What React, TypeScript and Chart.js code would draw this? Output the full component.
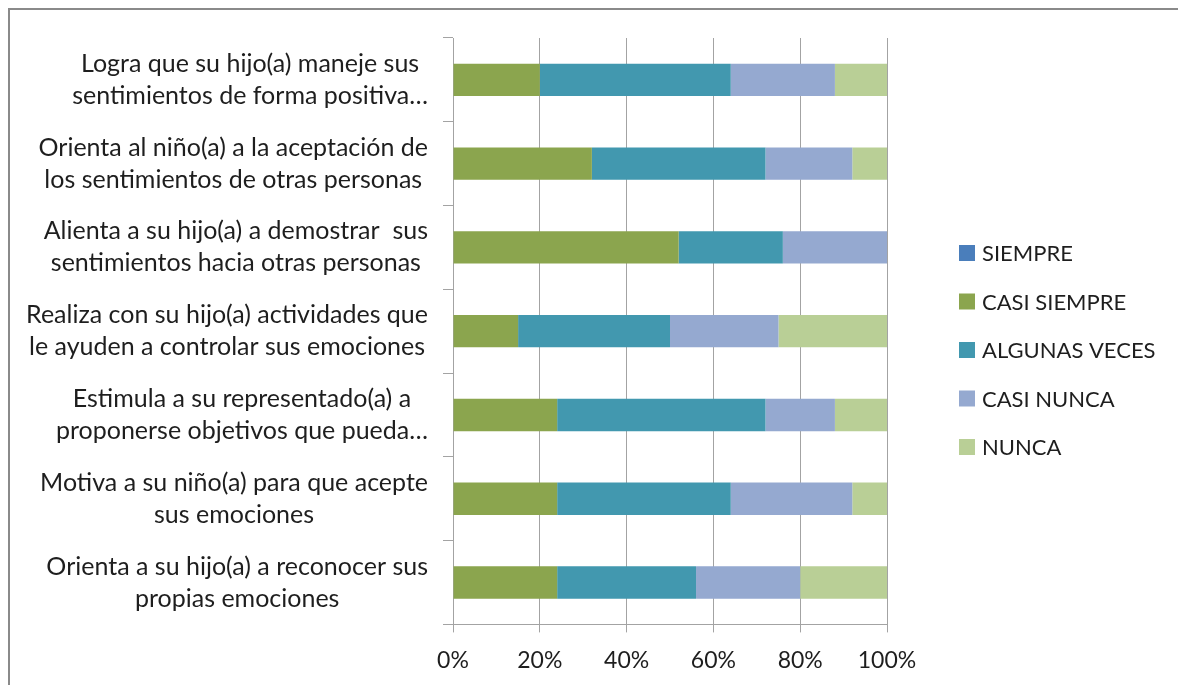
import React, { useEffect, useRef } from "react";
import { Chart, registerables } from "chart.js";

Chart.register(...registerables);

const categories: string[][] = [
  ["Logra que su hijo(a) maneje sus", "sentimientos de forma positiva…"],
  ["Orienta al niño(a) a la aceptación de", "los sentimientos de otras personas"],
  ["Alienta a su hijo(a) a demostrar  sus", "sentimientos hacia otras personas"],
  ["Realiza con su hijo(a) actividades que", "le ayuden a controlar sus emociones"],
  ["Estimula a su representado(a) a", "proponerse objetivos que pueda…"],
  ["Motiva a su niño(a) para que acepte", "sus emociones"],
  ["Orienta a su hijo(a) a reconocer sus", "propias emociones"],
];

const seriesNames = ["SIEMPRE", "CASI SIEMPRE", "ALGUNAS VECES", "CASI NUNCA", "NUNCA"];
const siempre = [0, 0, 0, 0, 0, 0, 0];
const casiSiempre = [20, 32, 52, 15, 24, 24, 24];
const algunasVeces = [44, 40, 24, 35, 48, 40, 32];
const casiNunca = [24, 20, 24, 25, 16, 28, 24];
const nunca = [12, 8, 0, 25, 12, 8, 20];
const xTicks = [0, 20, 40, 60, 80, 100];

const colors = ["#4A7EBB", "#8BA54E", "#4298AF", "#95A9D0", "#B9CF96"];

const FONT = "Lato, 'Open Sans', sans-serif";
const TEXT = "#1e1e1e";
const GRID = "#a3a3a3";

// Category label layout
const LABEL_FONT_SIZE = 25;
const LABEL_LINE_HEIGHT = 32;
const LABEL_GAP = 25; // from plot left edge to right edge of label block

// Legend layout (canvas coordinates)
const LEGEND_FONT_SIZE = 22;
const LEGEND_BOX_X = 949;
const LEGEND_BOX = 16;
const LEGEND_TEXT_X = 972;
const LEGEND_CENTER_Y = 340;
const LEGEND_STEP = 48.5;

const categoryLabelPlugin = {
  id: "categoryLabels",
  afterDraw(chart: any) {
    const ctx = chart.ctx;
    const yScale = chart.scales.y;
    const labels: string[][] = chart.data.labels;
    ctx.save();
    ctx.font = `${LABEL_FONT_SIZE}px ${FONT}`;
    ctx.fillStyle = TEXT;
    ctx.textAlign = "center";
    ctx.textBaseline = "middle";
    const right = chart.chartArea.left - LABEL_GAP;
    labels.forEach((lines, i) => {
      const cy = yScale.getPixelForValue(i);
      const blockW = Math.max(...lines.map((l) => ctx.measureText(l).width));
      const cx = right - blockW / 2;
      const n = lines.length;
      lines.forEach((line, j) => {
        const ly = cy + (j - (n - 1) / 2) * LABEL_LINE_HEIGHT;
        ctx.fillText(line, cx, ly);
      });
    });
    ctx.restore();
  },
};

const legendPlugin = {
  id: "sideLegend",
  afterDraw(chart: any) {
    const ctx = chart.ctx;
    const ds = chart.data.datasets;
    const n = ds.length;
    ctx.save();
    ctx.font = `${LEGEND_FONT_SIZE}px ${FONT}`;
    ctx.textBaseline = "middle";
    ctx.textAlign = "left";
    ds.forEach((d: any, i: number) => {
      const cy = LEGEND_CENTER_Y + (i - (n - 1) / 2) * LEGEND_STEP;
      ctx.fillStyle = d.backgroundColor;
      ctx.fillRect(LEGEND_BOX_X, cy - LEGEND_BOX / 2, LEGEND_BOX, LEGEND_BOX);
      ctx.fillStyle = TEXT;
      ctx.fillText(d.label, LEGEND_TEXT_X, cy + 1);
    });
    ctx.restore();
  },
};

export default function App() {
  const ref = useRef<HTMLCanvasElement | null>(null);

  useEffect(() => {
    if (!ref.current) return;
    const values = [siempre, casiSiempre, algunasVeces, casiNunca, nunca];
    const chart = new Chart(ref.current, {
      type: "bar",
      data: {
        labels: categories,
        datasets: seriesNames.map((name, i) => ({
          label: name,
          data: values[i],
          backgroundColor: colors[i],
          borderWidth: 0,
          barPercentage: 0.386,
          categoryPercentage: 1,
        })),
      },
      plugins: [categoryLabelPlugin, legendPlugin],
      options: {
        indexAxis: "y",
        animation: false,
        responsive: false,
        maintainAspectRatio: false,
        layout: { padding: { left: 0, right: 291, top: 28, bottom: -3 } },
        plugins: {
          tooltip: { enabled: false },
          legend: { display: false },
        },
        scales: {
          x: {
            type: "linear",
            stacked: true,
            min: 0,
            max: 100,
            afterBuildTicks: (s: any) => {
              s.ticks = xTicks.map((v) => ({ value: v }));
            },
            ticks: {
              color: TEXT,
              font: { family: FONT, size: 23 },
              padding: 14,
              callback: (v: any) => v + "%",
            },
            grid: { color: GRID, lineWidth: 1, tickLength: 8, drawTicks: true },
            border: { color: GRID, width: 1 },
          },
          y: {
            type: "category",
            stacked: true,
            position: "left",
            afterFit: (s: any) => {
              s.width = 443;
              s.paddingTop = 0;
              s.paddingBottom = 0;
            },
            ticks: { display: false },
            grid: { display: true, drawOnChartArea: false, color: GRID, tickLength: 10, offset: true },
            border: { color: GRID, width: 1 },
          },
        },
      },
    });
    return () => chart.destroy();
  }, []);

  return (
    <div
      style={{
        position: "fixed",
        left: 8,
        top: 8,
        right: 0,
        bottom: 0,
        borderTop: "2px solid #8a8a8a",
        borderLeft: "2px solid #8a8a8a",
        background: "#fff",
      }}
    >
      <canvas ref={ref} width={1168} height={675} style={{ display: "block" }} />
    </div>
  );
}
